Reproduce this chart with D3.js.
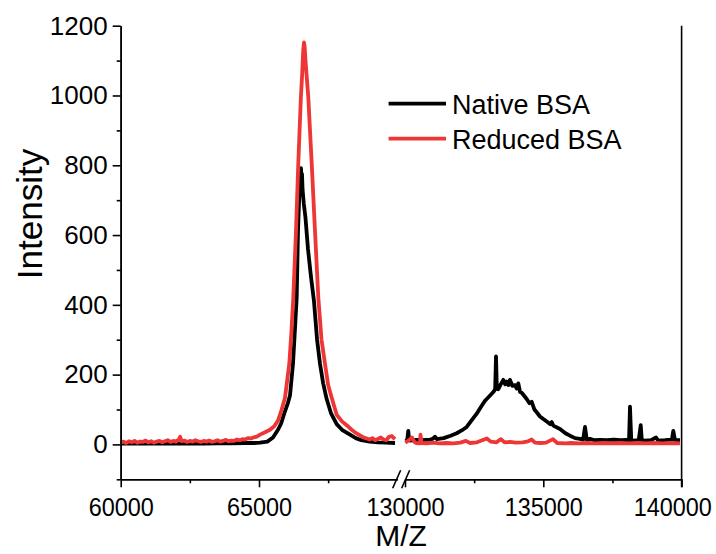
<!DOCTYPE html>
<html><head><meta charset="utf-8">
<script src="https://cdn.jsdelivr.net/npm/d3@7"></script>
<style>
html,body{margin:0;padding:0;background:#fff;}
svg{display:block;font-family:"Liberation Sans",Arial,sans-serif;}
</style></head>
<body>
<svg id="chart" width="716" height="554"></svg>
<script>
// ---------- data ----------
const seriesNames = ["Native BSA", "Reduced BSA"];
const seriesColors = ["#000000", "#ee3636"];
const xLabel = "M/Z";
const yLabel = "Intensity";
const yTicks = [0, 200, 400, 600, 800, 1000, 1200];
const yMinorTicks = [-100, 100, 300, 500, 700, 900, 1100];
const x1Ticks = [60000, 65000];
const x1MinorTicks = [62500, 67500];
const x2Ticks = [130000, 135000, 140000];
const x2MinorTicks = [132500, 137500];

// segment 1 (60000-70000) : [m/z, intensity]
const nativeSeg1 = [
 [60000,2],[60500,3],[61000,2],[61500,3],[62000,2],[62500,3],[63000,2],[63500,3],[64000,3],[64500,4],
 [64800,4],[65036,5],[65300,8],[65506,20],[65687,42],[65800,60],[65940,95],[66050,120],[66120,140],
 [66229,231],[66300,330],[66363,421],[66410,613],[66450,700],[66490,770],[66518,792],[66535,760],
 [66555,775],[66575,730],[66620,690],[66680,650],[66771,560],[66880,480],[66988,410],[67100,300],
 [67205,231],[67320,175],[67447,130],[67600,90],[67809,58],[68000,42],[68290,28],[68500,18],
 [68700,12],[69000,8],[69300,6],[69600,5],[69917,4]
];
const reducedSeg1 = [
 [60000,5],[60100,8],[60200,4],[60300,9],[60400,6],[60500,10],[60600,5],[60700,8],[60800,7],[60900,11],
 [61000,6],[61100,9],[61200,5],[61300,8],[61400,10],[61500,6],[61600,9],[61700,12],[61800,7],[61900,10],
 [62000,8],[62100,14],[62150,22],[62200,9],[62300,11],[62400,7],[62500,10],[62600,8],[62700,12],[62800,9],
 [62900,7],[63000,10],[63100,8],[63200,11],[63300,7],[63400,9],[63500,12],[63600,8],[63700,10],[63800,13],
 [63900,9],[64000,11],[64100,10],[64200,14],[64300,12],[64400,15],[64500,14],[64600,18],[64700,17],
 [64800,20],[64917,22],[65036,28],[65200,34],[65398,42],[65550,52],[65687,68],[65820,100],[65940,134],
 [66095,231],[66170,320],[66240,421],[66338,613],[66421,806],[66514,995],[66560,1060],[66600,1130],
 [66627,1152],[66650,1140],[66690,1090],[66782,995],[66905,806],[67024,613],[67144,421],[67260,300],
 [67386,231],[67500,170],[67628,134],[67809,85],[68000,66],[68170,55],[68350,42],[68500,33],[68650,26],
 [68771,20],[68900,17],[69000,14],[69100,18],[69200,12],[69300,16],[69400,20],[69500,14],[69600,12],
 [69700,22],[69800,24],[69917,15]
];
// segment 2 (130000-140000)
const nativeSeg2 = [
 [130010,10],[130080,12],[130119,39],[130150,12],[130181,11],[130400,13],[130600,12],[130904,14],
 [131000,16],[131085,22],[131150,15],[131400,18],[131650,25],[131869,32],[132050,40],[132231,50],
 [132400,68],[132592,88],[132750,108],[132892,125],[133050,138],[133192,150],[133260,158],[133290,252],
 [133320,160],[133373,158],[133460,172],[133554,185],[133620,172],[133677,180],[133740,170],[133796,185],
 [133880,168],[133977,170],[134040,160],[134096,175],[134160,150],[134219,148],[134300,140],[134400,130],
 [134500,118],[134581,122],[134680,100],[134761,92],[134880,80],[135000,73],[135150,64],[135250,58],
 [135304,64],[135360,54],[135604,44],[135800,32],[135965,25],[136150,18],[136327,16],[136440,14],
 [136508,50],[136570,14],[136688,16],[136850,12],[137050,13],[137300,12],[137550,14],[137800,12],
 [138015,13],[138100,12],[138134,108],[138180,12],[138254,11],[138450,12],[138522,55],[138560,12],
 [138677,11],[138900,12],[139075,20],[139150,11],[139400,12],[139650,14],[139700,39],[139760,12],[139942,12]
];
const reducedSeg2 = [
 [130010,5],[130150,12],[130250,20],[130330,8],[130400,4],[130542,3],[130560,28],[130600,4],[130800,3],
 [131000,5],[131250,3],[131500,4],[131750,3],[132000,5],[132200,10],[132350,4],[132600,6],[132960,17],
 [133100,8],[133300,6],[133470,15],[133600,6],[133800,7],[134000,5],[134250,6],[134450,9],[134580,14],
 [134700,5],[134900,4],[135100,5],[135350,15],[135500,4],[135800,3],[136000,4],[136300,3],[136600,4],
 [136900,3],[137200,4],[137500,3],[137800,4],[138100,3],[138400,4],[138700,3],[139000,4],[139300,3],
 [139600,4],[139942,3]
];

// ---------- layout ----------
const svg = d3.select("#chart");
const yTop = 25.7, yBottom = 479.3;
const y = d3.scaleLinear().domain([-100, 1200]).range([yBottom, yTop]);
const x1 = d3.scaleLinear().domain([60000, 70000]).range([120.7, 397.3]);
const x2 = d3.scaleLinear().domain([130000, 140000]).range([405, 681.6]);
const axisFont = 26;

function styleAxis(g) {
  g.select(".domain").attr("stroke", "#000").attr("stroke-width", 1.6);
  g.selectAll(".tick line").attr("stroke", "#000").attr("stroke-width", 1.6);
  g.selectAll(".tick text").attr("fill", "#000").attr("font-size", axisFont)
    .attr("font-family", "Liberation Sans, Arial, sans-serif");
}

// data lines
const line1 = d3.line().x(d => x1(d[0])).y(d => y(d[1]));
const line2 = d3.line().x(d => x2(d[0])).y(d => y(d[1]));
const dataG = svg.append("g");
const segs = [
  [nativeSeg1, line1, 0], [nativeSeg2, line2, 0],
  [reducedSeg1, line1, 1], [reducedSeg2, line2, 1]
];
segs.forEach(([data, gen, si]) => {
  dataG.append("path").datum(data).attr("d", gen)
    .attr("fill", "none").attr("stroke", seriesColors[si])
    .attr("stroke-width", 3.8).attr("stroke-linejoin", "round");
});

// y axis
const yAxisG = svg.append("g").attr("transform", `translate(${x1.range()[0]},0)`)
  .call(d3.axisLeft(y).tickValues(yTicks).tickSize(8).tickSizeOuter(0).tickPadding(5).tickFormat(d3.format("d")));
styleAxis(yAxisG);
const yMinorG = svg.append("g").attr("transform", `translate(${x1.range()[0]},0)`)
  .call(d3.axisLeft(y).tickValues(yMinorTicks).tickSize(4).tickSizeOuter(0).tickFormat(""));
styleAxis(yMinorG);

// x axes (two segments)
function xAxis(scale, ticks, minor) {
  const g = svg.append("g").attr("transform", `translate(0,${yBottom})`)
    .call(d3.axisBottom(scale).tickValues(ticks).tickSize(8).tickSizeOuter(0).tickPadding(10).tickFormat(d3.format("d")));
  styleAxis(g);
  g.selectAll(".tick text").attr("transform", "scale(0.9,1)");
  // keep the right-most label inside the picture, as in the reference
  g.selectAll(".tick text").filter(d => d === 140000)
    .attr("text-anchor", "end").attr("x", 33);
  const gm = svg.append("g").attr("transform", `translate(0,${yBottom})`)
    .call(d3.axisBottom(scale).tickValues(minor).tickSize(4).tickSizeOuter(0).tickFormat(""));
  styleAxis(gm);
}
xAxis(x1, x1Ticks, x1MinorTicks);
xAxis(x2, x2Ticks, x2MinorTicks);

// right edge line
svg.append("line").attr("x1", x2.range()[1]).attr("x2", x2.range()[1])
  .attr("y1", yTop).attr("y2", yBottom + 8).attr("stroke", "#000").attr("stroke-width", 1.6);

// break marks
const bx = (x1.range()[1] + x2.range()[0]) / 2;
[-4.5, 4.5].forEach(off => {
  svg.append("line")
    .attr("x1", bx + off - 4).attr("y1", yBottom + 9)
    .attr("x2", bx + off + 4).attr("y2", yBottom - 9)
    .attr("stroke", "#000").attr("stroke-width", 1.6);
});

// axis titles
svg.append("text").attr("x", 401).attr("y", 546).attr("text-anchor", "middle")
  .attr("font-size", 30).attr("fill", "#000").text(xLabel);
svg.append("text").attr("transform", "translate(42,214) rotate(-90)").attr("text-anchor", "middle")
  .attr("font-size", 35).attr("fill", "#000").text(yLabel);

// legend
const legend = svg.append("g");
seriesNames.forEach((name, i) => {
  const ly = 103.6 + i * 35;
  legend.append("line").attr("x1", 388.6).attr("x2", 446).attr("y1", ly).attr("y2", ly)
    .attr("stroke", seriesColors[i]).attr("stroke-width", 3.8);
  legend.append("text").attr("x", 452).attr("y", ly + 10).attr("font-size", 27)
    .attr("fill", "#000").text(name);
});
</script>
</body></html>
